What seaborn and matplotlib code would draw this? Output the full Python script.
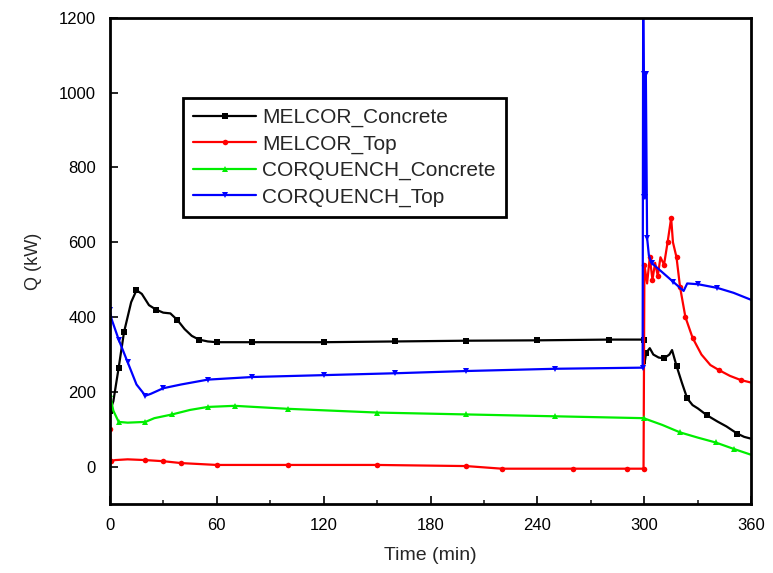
import numpy as np
import pandas as pd
import matplotlib
matplotlib.use("Agg")
import matplotlib.pyplot as plt
import seaborn as sns
from matplotlib.ticker import MultipleLocator

# MELCOR concrete heat flux
melcor_concrete_t = [0, 2, 5, 8, 12, 15, 18, 22, 26, 30, 34, 38, 42, 46, 50, 55, 60, 80, 120,
                     160, 200, 240, 280, 299.5, 300, 301, 303, 305, 308, 311, 314, 315.5, 318,
                     321, 324, 327, 330, 335, 341, 346, 352, 356, 360]
melcor_concrete_q = [148, 175, 265, 360, 440, 472, 462, 432, 420, 412, 410, 392, 368, 350, 340,
                     335, 333, 333, 333, 335, 337, 338, 340, 340, 275, 305, 317, 300, 292, 290,
                     300, 312, 270, 225, 183, 165, 156, 138, 121, 108, 89, 80, 75]

# MELCOR top heat flux
melcor_top_t = [0, 0.5, 3, 10, 20, 30, 40, 60, 100, 150, 200, 220, 260, 290, 299.5, 300, 301.5,
                303, 304.5, 306, 307.5, 309, 311, 313, 315, 316, 318, 320, 323, 327, 332, 337,
                342, 348, 354, 360]
melcor_top_q = [100, 15, 18, 20, 18, 15, 10, 5, 5, 5, 2, -5, -5, -5, -5, 540, 490, 560, 500,
                545, 510, 560, 540, 600, 665, 600, 560, 480, 400, 345, 300, 272, 258, 243,
                232, 225]

# CORQUENCH concrete heat flux
corq_concrete_t = [0, 2, 5, 10, 20, 25, 35, 45, 55, 70, 100, 150, 200, 250, 299.5, 310, 320,
                   330, 340, 350, 360]
corq_concrete_q = [195, 150, 120, 118, 120, 130, 140, 152, 160, 163, 155, 145, 140, 135, 130,
                   112, 92, 78, 65, 48, 32]

# CORQUENCH top heat flux
corq_top_t = [0, 1, 5, 10, 15, 20, 23, 30, 40, 55, 80, 120, 160, 200, 250, 299, 299.3, 299.6,
              299.9, 300.2, 300.5, 300.8, 301.5, 302.5, 304, 310, 316, 322, 324, 330, 341,
              350, 360]
corq_top_q = [420, 395, 340, 280, 220, 190, 195, 210, 220, 233, 240, 245, 250, 256, 262, 265,
              1260, 1050, 720, 1050, 720, 1050, 612, 565, 545, 520, 495, 470, 490, 488, 478,
              465, 446]

series = [
    ("MELCOR_Concrete", melcor_concrete_t, melcor_concrete_q, "black", "s"),
    ("MELCOR_Top", melcor_top_t, melcor_top_q, "red", "o"),
    ("CORQUENCH_Concrete", corq_concrete_t, corq_concrete_q, "#00ee00", "^"),
    ("CORQUENCH_Top", corq_top_t, corq_top_q, "blue", "v"),
]

sns.set_style("white")
plt.rcParams["font.family"] = ["Liberation Sans", "DejaVu Sans"]
plt.rcParams["xtick.direction"] = "in"
plt.rcParams["ytick.direction"] = "in"

fig = plt.figure(figsize=(7.73, 5.73), dpi=100)
ax = fig.add_axes([0.142, 0.120, 0.830, 0.849])

for name, t, q, color, marker in series:
    df = pd.DataFrame({"t": t, "q": q})
    sns.lineplot(data=df, x="t", y="q", ax=ax, color=color, marker=marker,
                 markersize=4, markeredgewidth=0, markevery=0.037, linewidth=1.6,
                 estimator=None, sort=False, label=name)

ax.set_xlim(0, 360)
ax.set_ylim(-100, 1200)
ax.xaxis.set_major_locator(MultipleLocator(60))
ax.xaxis.set_minor_locator(MultipleLocator(30))
ax.yaxis.set_major_locator(MultipleLocator(200))
ax.tick_params(which="major", length=6, width=1.2, labelsize=12, colors="black",
               bottom=True, left=True, top=False, right=False, pad=10)
ax.tick_params(which="minor", length=3, width=1.2, bottom=True, top=False)

for sp in ax.spines.values():
    sp.set_linewidth(2)
    sp.set_color("black")

ax.set_xlabel("Time (min)", fontsize=14, labelpad=10)
ax.set_ylabel("Q (kW)", fontsize=13, labelpad=12)

leg = ax.legend(loc="upper left", bbox_to_anchor=(0.114, 0.836), fontsize=15,
                frameon=True, fancybox=False, handlelength=3.0, handletextpad=0.3,
                labelspacing=0.35, borderpad=0.5, borderaxespad=0)
leg.get_frame().set_edgecolor("black")
leg.get_frame().set_linewidth(2)
leg.get_frame().set_alpha(1)

fig.savefig("out.png", dpi=100)
